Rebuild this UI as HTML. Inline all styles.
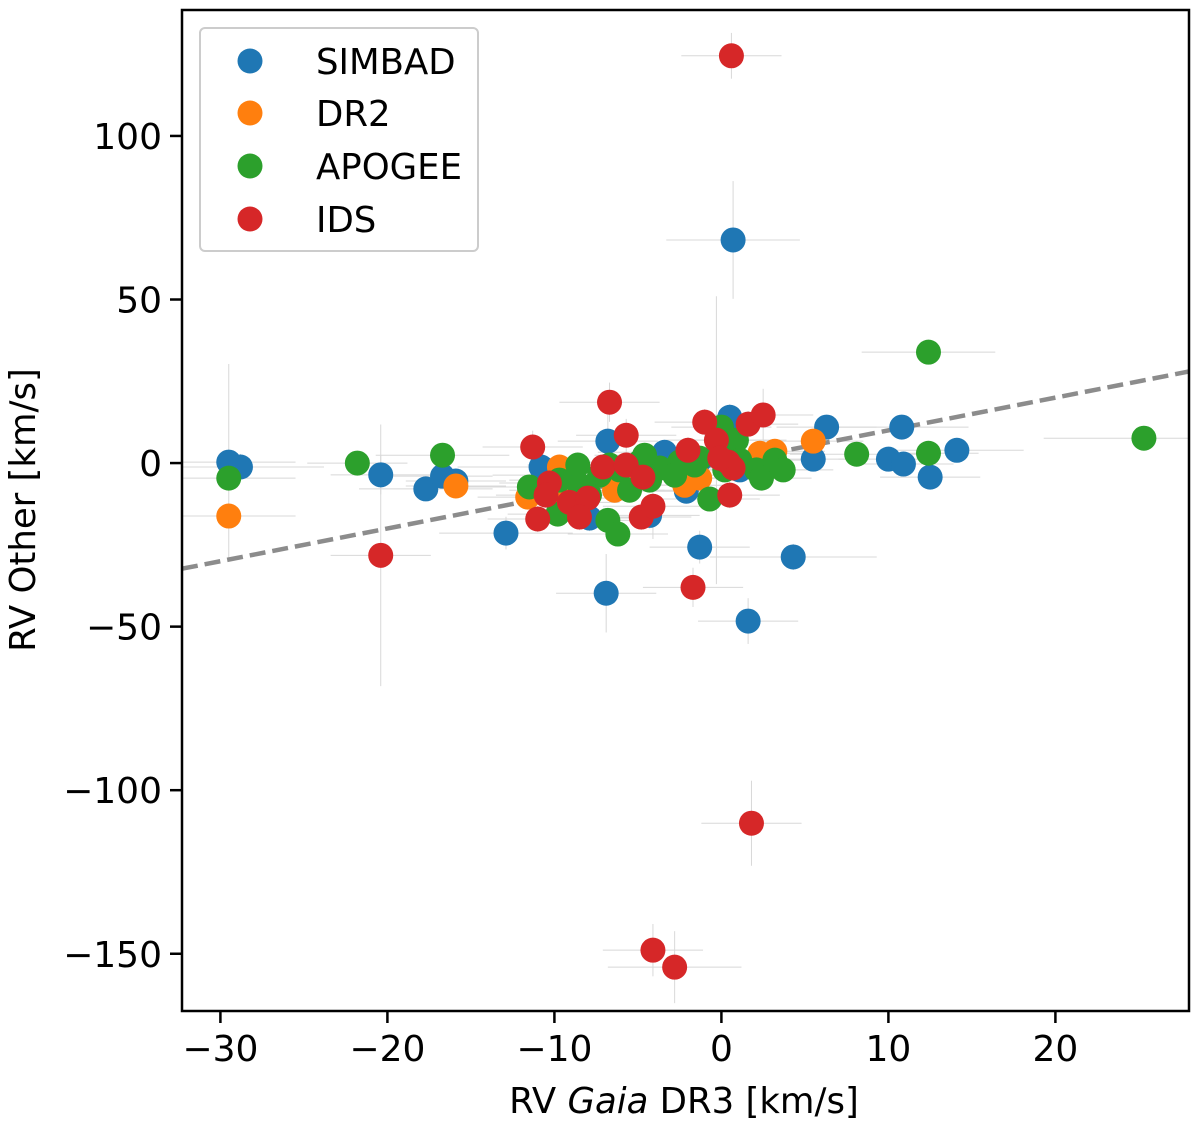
<!DOCTYPE html>
<html><head><meta charset="utf-8"><style>
html,body{margin:0;padding:0;background:#fff;}
svg text{font-family:"DejaVu Sans","Liberation Sans",sans-serif;}
</style></head><body>
<svg id="chart" width="1200" height="1126" viewBox="0 0 1200 1126" xmlns="http://www.w3.org/2000/svg">
<g id="errs"></g>
<g id="refline"></g>
<g id="pts"></g>
<rect x="182" y="10" width="1007" height="1001" fill="none" stroke="#000" stroke-width="2.5"/>
<g id="ticks"></g>
<text x="684" y="1113" font-size="35.5" text-anchor="middle">RV <tspan font-style="italic">Gaia</tspan> DR3 [km/s]</text>
<text transform="translate(35,510) rotate(-90)" font-size="35.5" text-anchor="middle">RV Other [km/s]</text>
<g>
<rect x="200" y="28" width="278" height="223" rx="5" fill="#fff" stroke="#ccc" stroke-width="2"/>
<circle cx="250" cy="61" r="12.5" fill="#1f77b4"/>
<text x="316" y="74" font-size="35.5">SIMBAD</text>
<circle cx="250" cy="113" r="12.5" fill="#ff7f0e"/>
<text x="316" y="126" font-size="35.5">DR2</text>
<circle cx="250" cy="166" r="12.5" fill="#2ca02c"/>
<text x="316" y="179" font-size="35.5">APOGEE</text>
<circle cx="250" cy="219" r="12.5" fill="#d62728"/>
<text x="316" y="232" font-size="35.5">IDS</text>
</g>
</svg>
<script>
const xTicks=[-30,-20,-10,0,10,20];
const yTicks=[100,50,0,-50,-100,-150];
const xTickLabels=["\u221230","\u221220","\u221210","0","10","20"];
const yTickLabels=["100","50","0","\u221250","\u2212100","\u2212150"];
const xDomain=[-32.3,28.0];
const yDomain=[-167.5,138.5];
// [x, y, xerr, yerr]
const simbad=[[-29.5,0.3,4,30],[-28.8,-1.2,5,4],[-20.4,-3.6,3,6],[-17.7,-7.9,4,3],[-16.7,-4,3,2],[-15.9,-5.5,3,3],[-12.9,-21.4,4,5],[-10.8,-1.2,5,3],[-6.8,6.7,3,8],[-6.9,-39.8,3,12],[-3.4,3.3,4,3],[-2.1,-8.6,3,3],[-1.3,-25.7,3,5],[0.5,14,2,4],[0.7,68.2,4,18],[1.6,-48.3,3,7],[4.3,-28.7,5,4],[5.5,1.2,3,3],[6.3,11,3,3],[10,1.2,3,2],[10.8,11,4,3],[10.9,-0.3,3,2],[12.5,-4.3,3,2],[14.1,3.9,4,2],[-7.9,-16.8,3,4],[-4.3,-16,3,4],[-9.7,-3.7,4,3],[-6.1,-6.7,3,3],[-4.9,-2.1,3,2],[-1.3,0.9,3,2],[1.1,-2.1,3,3]];
const dr2=[[-29.5,-16.2,4,3],[-15.9,-7,3,2],[-11.6,-10.4,3,2],[-9.7,-1.2,3,2],[5.5,6.7,3,2],[3.2,3.6,3,2],[2.3,3,3,2],[-2.2,-6.8,3,2],[-6.4,-8.3,3,2],[-4.9,-2.1,3,2],[-9.7,-8.3,3,2],[-1.3,-4.6,3,2]];
const apogee=[[-29.5,-4.6,4,2],[-21.8,0,3,1],[-16.7,2.4,4,2],[-11.5,-7.3,4,2],[-9.8,-15.6,3,2],[-8.6,-0.6,3,2],[-6.8,-17.5,3,2],[-6.2,-21.7,3,2],[-0.7,-11,3,2],[0,11,3,2],[0.9,7,3,2],[2.1,-2.1,3,2],[2.4,-4.6,3,2],[3.2,0.9,3,2],[3.7,-2.1,3,2],[8.1,2.7,4,2],[12.4,33.9,4,1],[12.4,3,3,2],[25.3,7.6,6,1],[-8.5,-6.7,3,2],[-7.3,-3.7,3,2],[-6.1,-2.1,3,2],[-4.9,0.3,3,2],[-3.7,-1.5,3,2],[-2.5,0.3,3,2],[-1.3,1.5,3,2],[-0.1,2.4,3,2],[-4.3,-5.2,3,2],[-7.9,-9.8,3,2],[-5.5,-8.3,3,2],[-9.7,-5.2,3,2],[-2.8,-3.7,3,2],[-1.6,-0.6,3,2],[1.1,0.9,3,2],[0.2,-2.1,3,2],[-6.7,-0.6,3,2],[-4.6,2.4,3,2]];
const ids=[[0.6,124.5,3,7],[-6.7,18.6,3,6],[-5.7,8.5,3,5],[-11.3,4.9,3,5],[-1,12.5,3,4],[1.6,11.9,3,4],[2.5,14.7,3,8],[-0.3,7,3,44],[-2,3.9,3,4],[-7.1,-1.2,3,4],[-5.7,-0.6,3,4],[-4.7,-4.3,3,4],[-10.3,-6.1,3,4],[-10.5,-9.8,3,4],[-9.1,-12,3,4],[-8,-10.7,3,4],[-8.5,-16.5,3,4],[-11,-17.1,3,4],[-4.8,-16.5,3,4],[-4.1,-13.2,3,10],[-1.7,-38,3,6],[-20.4,-28.2,3,40],[0.5,-9.8,3,4],[0.4,0.3,3,4],[0.7,-1.5,3,4],[1.8,-110.1,3,13],[-4.1,-148.9,3,8],[-2.8,-154.1,4,11],[-0.1,1.5,3,4]];
const series=[["simbad",simbad,"#1f77b4"],["dr2",dr2,"#ff7f0e"],["apogee",apogee,"#2ca02c"],["ids",ids,"#d62728"]];
const L=182,R=1189,T=10,B=1011;
function xs(v){return L+(v-xDomain[0])/(xDomain[1]-xDomain[0])*(R-L);}
function ys(v){return B-(v-yDomain[0])/(yDomain[1]-yDomain[0])*(B-T);}
const NS="http://www.w3.org/2000/svg";
function mk(tag,attrs,parent){const e=document.createElementNS(NS,tag);for(const k in attrs)e.setAttribute(k,attrs[k]);parent.appendChild(e);return e;}
const errs=document.getElementById('errs'),pts=document.getElementById('pts'),tk=document.getElementById('ticks'),rl=document.getElementById('refline');
const clip=mk('clipPath',{id:'pc'},document.getElementById('chart'));
mk('rect',{x:L,y:T,width:R-L,height:B-T},clip);
errs.setAttribute('clip-path','url(#pc)');rl.setAttribute('clip-path','url(#pc)');pts.setAttribute('clip-path','url(#pc)');
series.forEach(([nm,arr,col])=>{
  arr.forEach(p=>{
    const cx=xs(p[0]),cy=ys(p[1]);
    const h=mk('line',{x1:xs(p[0]-p[2]),x2:xs(p[0]+p[2]),y1:cy,y2:cy,stroke:'#d8d8d8','stroke-width':1},errs);
    
    
    const v=mk('line',{x1:cx,x2:cx,y1:ys(p[1]-p[3]),y2:ys(p[1]+p[3]),stroke:'#d8d8d8','stroke-width':1},errs);
    
    
  });
});
const ln=mk('line',{x1:xs(xDomain[0]),y1:ys(xDomain[0]),x2:xs(xDomain[1]),y2:ys(xDomain[1]),stroke:'#8c8c8c','stroke-width':4.5,'stroke-dasharray':'16,7'},rl);


series.forEach(([nm,arr,col])=>{
  arr.forEach(p=>{
    const c=mk('circle',{cx:xs(p[0]),cy:ys(p[1]),r:12.5,fill:col},pts);
    
    
  });
});
xTicks.forEach((t,i)=>{
  const x=xs(t);
  const l=mk('line',{x1:x,x2:x,y1:B,y2:B+12,stroke:'#000','stroke-width':2.5},tk);
  
  
  const tx=mk('text',{x:x,y:B+50,'font-size':36,'text-anchor':'middle'},tk);
  tx.textContent=xTickLabels[i];
  
  
});
yTicks.forEach((t,i)=>{
  const y=ys(t);
  const l=mk('line',{x1:L-12,x2:L,y1:y,y2:y,stroke:'#000','stroke-width':2.5},tk);
  
  
  const tx=mk('text',{x:L-20,y:y+13,'font-size':36,'text-anchor':'end'},tk);
  tx.textContent=yTickLabels[i];
  
  
});
</script>
</body></html>
